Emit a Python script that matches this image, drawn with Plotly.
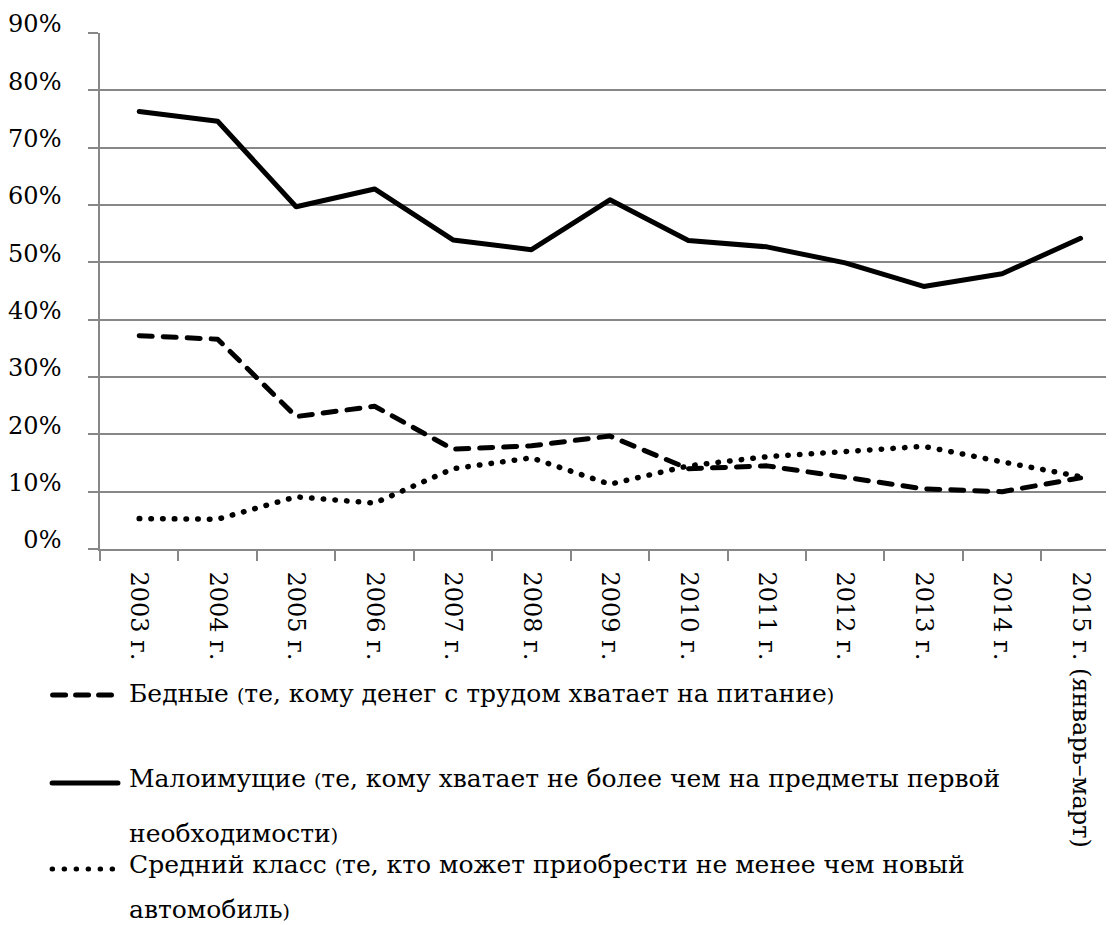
import plotly.graph_objects as go

# ---- data ----
years = ["2003 г.", "2004 г.", "2005 г.", "2006 г.", "2007 г.", "2008 г.", "2009 г.",
         "2010 г.", "2011 г.", "2012 г.", "2013 г.", "2014 г.", "2015 г. (январь–март)"]
poor = [37.2, 36.6, 23.1, 24.9, 17.4, 18.0, 19.7, 14.0, 14.5, 12.6, 10.5, 10.0, 12.4]
low_income = [76.3, 74.6, 59.7, 62.8, 53.9, 52.2, 60.9, 53.8, 52.7, 49.9, 45.8, 48.0, 54.2]
middle = [5.3, 5.2, 9.1, 8.0, 14.0, 15.9, 11.3, 14.5, 16.1, 17.1, 17.9, 15.2, 12.6]
y_ticks = [0, 10, 20, 30, 40, 50, 60, 70, 80, 90]

FONT = "DejaVu Serif"
GRID = "#878787"

OFF = 8                      # page body margin
W, H = 1114, 925
L, T, B = 98, 33, 549        # plot area bounds in screen pixels
PW, PH = W - (L - OFF), B - T

def px(x):
    return (x - L) / PW

def py(y):
    return (B - y) / PH

fig = go.Figure()
fig.add_trace(go.Scatter(x=years, y=poor, mode="lines",
                         line=dict(color="black", width=5, dash="13px,11px"),
                         name="Бедные"))
fig.add_trace(go.Scatter(x=years, y=low_income, mode="lines",
                         line=dict(color="black", width=5),
                         name="Малоимущие"))
fig.add_trace(go.Scatter(x=years, y=middle, mode="lines",
                         line=dict(color="black", width=5.5, dash="0.5px,11.2px"),
                         name="Средний класс"))

cat_w = 78.6
fig.update_xaxes(type="category", range=[-0.5, -0.5 + PW / cat_w],
                 showgrid=False, showline=True, linecolor=GRID, linewidth=1.5,
                 ticks="outside", tickson="boundaries", ticklen=10, tickwidth=1.5,
                 tickcolor=GRID, tickangle=90, ticklabelstandoff=16,
                 tickfont=dict(family=FONT, size=24, color="black"))
fig.update_yaxes(range=[0, 90], tickvals=y_ticks, ticktext=[f"{v}%" for v in y_ticks],
                 showgrid=True, gridcolor=GRID, gridwidth=1.5, zeroline=False,
                 showline=True, linecolor=GRID, linewidth=1.5,
                 ticks="outside", ticklen=10, tickwidth=1.5, tickcolor=GRID,
                 ticklabelstandoff=22, ticklabelshift=-9,
                 tickfont=dict(family=FONT, size=24, color="black"))

# ---- manual legend ----
shapes = [
    dict(type="line", xref="paper", yref="paper", x0=px(50.5), x1=px(109.5), y0=py(695), y1=py(695),
         line=dict(color="black", width=5, dash="13px,10px")),
    dict(type="line", xref="paper", yref="paper", x0=px(50), x1=px(116), y0=py(783), y1=py(783),
         line=dict(color="black", width=5)),
    dict(type="line", xref="paper", yref="paper", x0=px(50), x1=px(111), y0=py(869), y1=py(869),
         line=dict(color="black", width=5, dash="0.5px,11.5px")),
]

def paren(s):
    return s.replace("(", '<span style="font-size:19px">(</span>').replace(")", '<span style="font-size:19px">)</span>')

legend_lines = [
    ("Бедные (те, кому денег с трудом хватает на питание)", 702),
    ("Малоимущие (те, кому хватает не более чем на предметы первой", 787),
    ("необходимости)", 842),
    ("Средний класс (те, кто может приобрести не менее чем новый", 873),
    ("автомобиль)", 918),
]
annotations = []
for text, base in legend_lines:
    annotations.append(dict(text=paren(text), xref="paper", yref="paper",
                            x=px(125), y=py(base - 9), xanchor="left", yanchor="middle",
                            showarrow=False, font=dict(family=FONT, size=25, color="black")))

fig.update_layout(width=W, height=H,
                  margin=dict(l=L - OFF, r=0, t=T - OFF, b=H - (B - OFF), pad=0),
                  paper_bgcolor="white", plot_bgcolor="white", showlegend=False,
                  shapes=shapes, annotations=annotations,
                  font=dict(family=FONT, color="black"))

round_caps = ("document.querySelectorAll('.scatterlayer path.js-line, .shapelayer path')"
              ".forEach(function(p){p.style.strokeLinecap='round';p.style.strokeLinejoin='round';});")
fig.write_html("out.html", post_script=round_caps)
